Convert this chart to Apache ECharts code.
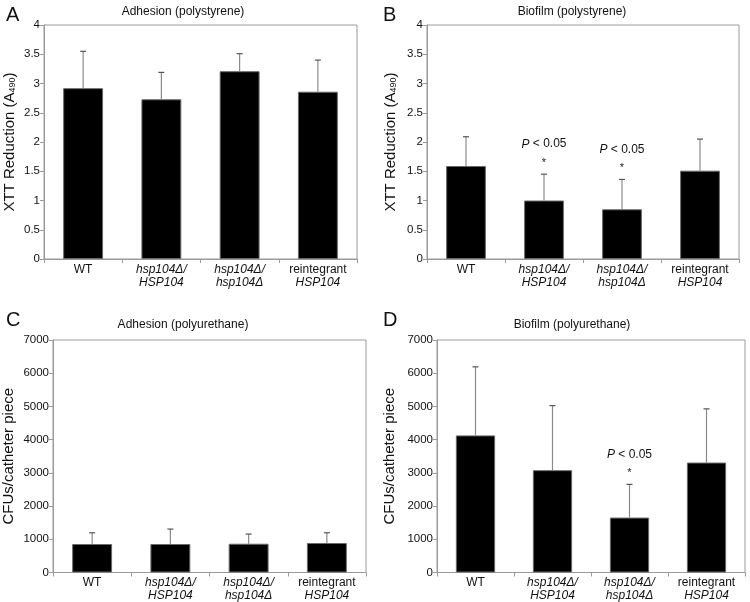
<!DOCTYPE html>
<html>
<head>
<meta charset="utf-8">
<script src="https://cdn.jsdelivr.net/npm/echarts@6/dist/echarts.min.js"></script>
<style>html,body{margin:0;padding:0;background:#fff}#chart{width:750px;height:602px}</style>
</head>
<body>
<div id="chart"></div>
<script>
// ---- data ----
const categories = ['WT', 'hsp104Δ/HSP104', 'hsp104Δ/hsp104Δ', 'reintegrant HSP104'];
const panelLetters = ['A', 'B', 'C', 'D'];
const panelTitles = ['Adhesion (polystyrene)', 'Biofilm (polystyrene)', 'Adhesion (polyurethane)', 'Biofilm (polyurethane)'];

const adhesionPolystyrene = [2.92, 2.73, 3.21, 2.86];
const adhesionPolystyreneSD = [0.63, 0.46, 0.30, 0.54];
const biofilmPolystyrene = [1.59, 1.00, 0.85, 1.51];
const biofilmPolystyreneSD = [0.50, 0.45, 0.51, 0.54];
const adhesionPolyurethane = [858, 858, 867, 888];
const adhesionPolyurethaneSD = [338, 449, 290, 308];
const biofilmPolyurethane = [4128, 3081, 1654, 3311];
const biofilmPolyurethaneSD = [2064, 1944, 999, 1616];

const sigA = [null, null, null, null];
const sigB = [null, 'P < 0.05', 'P < 0.05', null];
const sigC = [null, null, null, null];
const sigD = [null, null, 'P < 0.05', null];

const xtt_ticks = { min: 0, max: 4, interval: 0.5 };
const cfu_ticks = { min: 0, max: 7000, interval: 1000 };
const yNames = ['XTT Reduction (A490)', 'XTT Reduction (A490)', 'CFUs/catheter piece', 'CFUs/catheter piece'];

// ---- layout ----
const FONT = 'Liberation Sans, Arial, Helvetica, sans-serif';
const grids = [
  { left: 44, top: 25, width: 313, height: 234 },
  { left: 427, top: 25, width: 312, height: 234 },
  { left: 53, top: 340, width: 313, height: 234 },
  { left: 437, top: 340, width: 308, height: 234 }
];
const nameGaps = [27, 29, 37, 40];
const letterPos = [[1, 0], [378, 0], [1, 305], [378, 305]];
const titlePos = [[178, 1], [567, 1], [178, 314], [567, 314]];

const panels = [
  { vals: adhesionPolystyrene, sd: adhesionPolystyreneSD, sig: sigA, ticks: xtt_ticks },
  { vals: biofilmPolystyrene, sd: biofilmPolystyreneSD, sig: sigB, ticks: xtt_ticks },
  { vals: adhesionPolyurethane, sd: adhesionPolyurethaneSD, sig: sigC, ticks: cfu_ticks },
  { vals: biofilmPolyurethane, sd: biofilmPolyurethaneSD, sig: sigD, ticks: cfu_ticks }
];

function xLabelFormatter(v) {
  if (v === 'WT') return '{n|WT}';
  if (v === 'reintegrant HSP104') return '{n|reintegrant}\n{i|HSP104}';
  const parts = v.split('/');
  return '{i|' + parts[0] + '/}\n{i|' + parts[1] + '}';
}

function yNameRich(n) {
  if (n.indexOf('(A490)') >= 0) return '{a|XTT Reduction (A}{s|490}{a|)}';
  return '{a|' + n + '}';
}

const axisGray = '#9a9a9a';
const option = {
  animation: false,
  backgroundColor: '#fff',
  title: [],
  grid: [],
  xAxis: [],
  yAxis: [],
  series: []
};

panels.forEach((p, k) => {
  option.title.push({
    text: panelLetters[k], left: letterPos[k][0], top: letterPos[k][1],
    textStyle: { fontFamily: FONT, fontSize: 20, fontWeight: 'normal', color: '#111' }
  });
  option.title.push({
    text: panelTitles[k], left: titlePos[k][0], top: titlePos[k][1], textAlign: 'center',
    textStyle: { fontFamily: FONT, fontSize: 12, fontWeight: 'normal', color: '#111' }
  });
  option.grid.push(Object.assign({ show: true, borderColor: axisGray, borderWidth: 1, backgroundColor: 'transparent' }, grids[k]));
  option.xAxis.push({
    type: 'category', gridIndex: k, data: categories, boundaryGap: true,
    axisLine: { lineStyle: { color: axisGray, width: 1 } },
    axisTick: { show: true, alignWithLabel: false, length: 4, lineStyle: { color: axisGray } },
    axisLabel: {
      margin: 4, interval: 0, formatter: xLabelFormatter,
      rich: {
        n: { fontFamily: FONT, fontSize: 12, color: '#111', lineHeight: 13 },
        i: { fontFamily: FONT, fontSize: 12, fontStyle: 'italic', color: '#111', lineHeight: 13 }
      }
    },
    splitLine: { show: false }
  });
  option.yAxis.push({
    type: 'value', gridIndex: k, min: p.ticks.min, max: p.ticks.max, interval: p.ticks.interval,
    name: yNameRich(yNames[k]), nameLocation: 'middle', nameGap: nameGaps[k], nameRotate: 90,
    nameTextStyle: {
      rich: {
        a: { fontFamily: FONT, fontSize: 15, color: '#111' },
        s: { fontFamily: FONT, fontSize: 9, color: '#111', verticalAlign: 'bottom', padding: [6, 0, 0, 0] }
      }
    },
    axisLine: { show: true, lineStyle: { color: axisGray, width: 1 } },
    axisTick: { show: true, length: 4, lineStyle: { color: axisGray } },
    axisLabel: { margin: 4, fontFamily: FONT, fontSize: 11.5, color: '#111', formatter: v => String(v) },
    splitLine: { show: false }
  });
  option.series.push({
    type: 'bar', xAxisIndex: k, yAxisIndex: k, data: p.vals, barWidth: '51%',
    itemStyle: { color: '#000', borderColor: '#6a6a6a', borderWidth: 1 }, z: 2
  });
  option.series.push({
    type: 'custom', xAxisIndex: k, yAxisIndex: k, z: 3,
    data: p.vals.map((v, i) => [i, v, p.sd[i]]),
    renderItem: function (params, api) {
      const base = api.coord([api.value(0), api.value(1)]);
      const top = api.coord([api.value(0), api.value(1) + api.value(2)]);
      return {
        type: 'group',
        children: [
          { type: 'line', shape: { x1: base[0], y1: base[1], x2: top[0], y2: top[1] }, style: { stroke: '#8a8a8a', lineWidth: 1.2 } },
          { type: 'line', shape: { x1: top[0] - 3, y1: top[1], x2: top[0] + 3, y2: top[1] }, style: { stroke: '#555', lineWidth: 1.2 } }
        ]
      };
    }
  });
  const sigData = [];
  p.sig.forEach((s, i) => { if (s) sigData.push([i, p.vals[i] + p.sd[i], s]); });
  if (sigData.length) {
    option.series.push({
      type: 'custom', xAxisIndex: k, yAxisIndex: k, z: 4,
      data: sigData,
      renderItem: function (params, api) {
        const top = api.coord([api.value(0), api.value(1)]);
        const txt = sigData[params.dataIndex][2];
        return {
          type: 'group',
          children: [
            { type: 'text', x: top[0], y: top[1] - 11, style: { text: '*', fontFamily: FONT, fontSize: 11, fill: '#222', align: 'center', verticalAlign: 'middle' } },
            { type: 'text', x: top[0], y: top[1] - 30, style: {
                text: '{i|P} ' + txt.replace('P ', ''),
                rich: { i: { fontStyle: 'italic', fontFamily: FONT, fontSize: 12, fill: '#111' } },
                fontFamily: FONT, fontSize: 12, fill: '#111', align: 'center', verticalAlign: 'middle' } }
          ]
        };
      }
    });
  }
});

const chart = echarts.init(document.getElementById('chart'), null, { renderer: 'canvas' });
chart.setOption(option);
</script>
</body>
</html>
